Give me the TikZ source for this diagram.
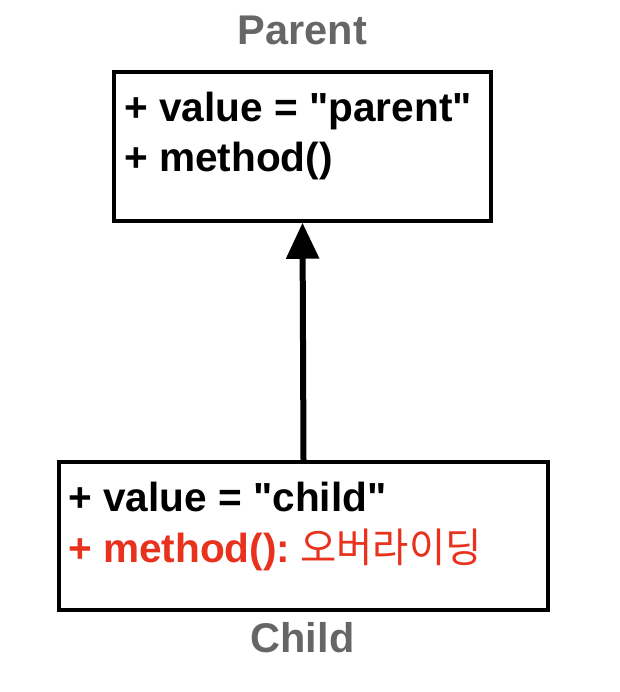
\documentclass[tikz,border=0pt]{standalone}
\usepackage{fontspec}
\setmainfont{Liberation Sans}[Ligatures=TeXOff]
\newfontfamily\kofont[FakeStretch=0.97]{Noto Sans CJK KR}
\usetikzlibrary{arrows.meta}
\definecolor{labelgray}{HTML}{666666}
\definecolor{overred}{HTML}{E8321E}
\tikzset{
  umlbox/.style={draw=black, line width=3.5pt, rectangle, inner sep=0pt, fill=white},
  member/.style={anchor=base west, inner sep=0pt, font=\fontsize{40.6}{48}\selectfont\bfseries},
  title/.style={anchor=base, inner sep=0pt, text=labelgray, font=\fontsize{41.5}{48}\selectfont\bfseries},
  inherit/.style={line width=6pt, -{Triangle[length=36pt,width=32pt]}}
}
\begin{document}
\begin{tikzpicture}[x=1pt,y=-1pt]
\useasboundingbox (0,0) rectangle (619,692);
\node[umlbox, minimum width=377pt, minimum height=149pt] (parent) at (302.5,146.5) {};
\node[umlbox, minimum width=489pt, minimum height=148pt] (child) at (303.5,536) {};
\node[title] (ptitle) at (302.5,45) {Parent};
\node[title] (ctitle) at (302.5,652) {Child};
\node[member] (pv) at (124,122) {+ value = "parent"};
\node[member] (pm) at (124,172) {+ method()};
\node[member] (cv) at (68,511) {+ value = "child"};
\node[member, text=overred] (cm) at (68,562) {+ method():\hspace{10pt}{\kofont\mdseries 오버라이딩}};
\draw[inherit] (child.north) -- (parent.south);
\end{tikzpicture}
\end{document}
